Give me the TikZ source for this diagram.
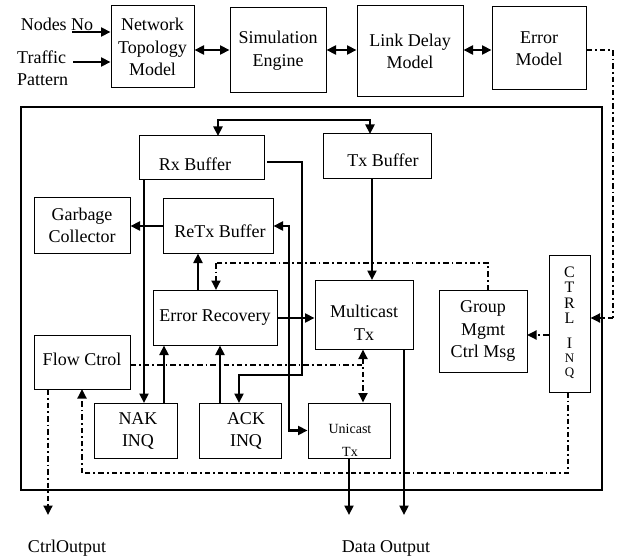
\documentclass[tikz,border=0pt]{standalone}
\usepackage{fontspec}
\setmainfont{Liberation Serif}
\usetikzlibrary{arrows.meta}
\begin{document}
\begin{tikzpicture}[x=1pt,y=-1pt,
  box/.style={draw, line width=1pt, inner sep=0pt, align=center,
    font=\fontsize{18}{22.5}\selectfont},
  txt/.style={inner sep=0pt, align=center, font=\fontsize{18}{22.5}\selectfont},
  arr/.style={line width=2.2pt, -{Triangle[length=9.5pt,width=9pt]}},
  dbl/.style={line width=2.2pt, {Triangle[length=9.5pt,width=9pt]}-{Triangle[length=9.5pt,width=9pt]}},
  sol/.style={line width=2.2pt},
  dd/.style={line width=1.8pt, dash pattern=on 5.5pt off 3pt on 1.8pt off 3pt},
  ddarr/.style={dd, -{Triangle[length=9.5pt,width=9pt]}},
  dddbl/.style={dd, {Triangle[length=9.5pt,width=9pt]}-{Triangle[length=9.5pt,width=9pt]}},
  letter/.style={inner sep=0pt, font=\fontsize{16}{16}\selectfont},
  smallletter/.style={inner sep=0pt, font=\fontsize{13}{13}\selectfont}]
\useasboundingbox (0,0) rectangle (619,559);

% top row
\node[box, minimum width=83pt, minimum height=82pt] (ntm) at (152.5,47) {Network\\Topology\\Model};
\node[box, minimum width=96pt, minimum height=85pt] (se) at (278,50.5) {Simulation\\Engine};
\node[box, minimum width=106pt, minimum height=91pt] (ldm) at (410,51.5) {Link Delay\\Model};
\node[box, minimum width=94pt, minimum height=83pt] (em) at (539,48.5) {Error\\Model};

% inputs
\node[txt] (nodesno) at (57,24) {Nodes No};
\node[txt, anchor=west, align=left] (traffic) at (17,68.5) {Traffic\\Pattern};
\coordinate (nnstart) at (72,32);
\coordinate (tpstart) at (73,62);
\draw[arr] (nnstart) -- (nnstart -| ntm.west);
\draw[arr] (tpstart) -- (tpstart -| ntm.west);

% outer frame
\node[draw, line width=2.2pt, minimum width=581pt, minimum height=383pt, inner sep=0pt] (frame) at (311.5,298.5) {};

% inner boxes
\node[box, minimum width=125pt, minimum height=44pt] (rx) at (201.5,158) {};
\node[txt] (rxl) at (195,164) {Rx Buffer};
\node[box, minimum width=108pt, minimum height=45pt] (tx) at (377,156.5) {};
\node[txt] (txl) at (383,160) {Tx Buffer};
\node[box, minimum width=96pt, minimum height=55pt] (gc) at (82,225.5) {Garbage\\Collector};
\node[box, minimum width=110pt, minimum height=54pt] (retx) at (218,226) {};
\node[txt] (retxl) at (220,231) {ReTx Buffer};
\node[box, minimum width=124pt, minimum height=55pt] (er) at (215,317.5) {Error Recovery};
\node[box, minimum width=98pt, minimum height=69pt] (mc) at (364,314.5) {};
\node[txt] (mcl) at (364,323) {Multicast\\Tx};
\node[box, minimum width=88pt, minimum height=82pt] (gm) at (483,331) {Group\\Mgmt\\Ctrl Msg};
\node[box, minimum width=41pt, minimum height=137pt] (ctrl) at (569.5,323.5) {};
\node[letter] (c1) at (569.5,272) {C};
\node[letter] (c2) at (569.5,287.5) {T};
\node[letter] (c3) at (569.5,303) {R};
\node[letter] (c4) at (569.5,318.5) {L};
\node[letter] (c5) at (569.5,343) {I};
\node[smallletter] (c6) at (569.5,358) {N};
\node[smallletter] (c7) at (569.5,373) {Q};
\node[box, minimum width=96pt, minimum height=54pt] (fc) at (82,362) {};
\node[txt] (fcl) at (82,359) {Flow Ctrol};
\node[box, minimum width=83pt, minimum height=55pt] (nak) at (135.5,430.5) {};
\node[txt] (nakl) at (138,431) {NAK\\INQ};
\node[box, minimum width=82pt, minimum height=55pt] (ack) at (240,430.5) {};
\node[txt] (ackl) at (246,431) {ACK\\INQ};
\node[box, minimum width=82pt, minimum height=55pt] (uc) at (349,430.5) {};
\node[inner sep=0pt, align=center, font=\fontsize{14}{23}\selectfont] (ucl) at (350,440) {Unicast\\Tx};

% outputs text
\node[txt] (cout) at (67,548) {CtrlOutput};
\node[txt] (dout) at (386,548) {Data Output};

% top row connectors
\coordinate (toprow) at (0,50);
\draw[dbl] (ntm.east |- toprow) -- (se.west |- toprow);
\draw[dbl] (se.east |- toprow) -- (ldm.west |- toprow);
\draw[dbl] (ldm.east |- toprow) -- (em.west |- toprow);

% error model to CTRL INQ
\coordinate (emr) at (613,50);
\coordinate (ctrlin) at (613,318);
\draw[dd] (em.east |- emr) -- (emr) -- (ctrlin);
\draw[ddarr] (ctrlin) -- (ctrlin -| ctrl.east);

% simulation engine to buffers
\coordinate (sj) at (280,120);
\coordinate (rxin) at (218,136);
\coordinate (txin) at (370,134);
\draw[sol] (sj -| se.south) -- (sj);
\draw[arr] (sj) -| (rxin);
\draw[arr] (sj) -| (txin);

% Rx buffer to NAK INQ
\coordinate (nakin) at (144,403);
\draw[arr] (rx.south -| nakin) -- (nakin);

% Rx buffer to ACK INQ
\coordinate (rxr) at (267,162);
\coordinate (rxdown) at (302,375);
\coordinate (ackin) at (239,403);
\draw[arr] (rxr) -| (rxdown) -| (ackin);

% Error recovery junction
\coordinate (j) at (289,318);
\draw[sol] (er.east |- j) -- (j);
\draw[arr] (j) -- (j -| mc.west);
\draw[arr] (j) |- (retx.east);
\draw[arr] (j) |- (uc.west);

% ReTx to garbage collector
\draw[arr] (retx.west) -- (retx.west -| gc.east);

% Error recovery to ReTx buffer
\coordinate (erup) at (198,290);
\draw[arr] (erup) -- (erup |- retx.south);

% NAK / ACK to error recovery
\coordinate (nakout) at (164,403);
\coordinate (ackout) at (220,403);
\draw[arr] (nakout) -- (nakout |- er.south);
\draw[arr] (ackout) -- (ackout |- er.south);

% Tx buffer to multicast
\coordinate (mcin) at (372,280);
\draw[arr] (tx.south -| mcin) -- (mcin);

% data outputs
\coordinate (mcout) at (404,515);
\coordinate (ucout) at (349,515);
\draw[arr] (mc.south -| mcout) -- (mcout);
\draw[arr] (uc.south) -- (ucout);

% group mgmt to error recovery
\coordinate (gmtop) at (488,290);
\coordinate (ddtop) at (216,263);
\coordinate (erdd) at (216,290);
\draw[dd] (gmtop) |- (ddtop);
\draw[ddarr] (ddtop) -- (erdd);

% CTRL INQ to group mgmt
\coordinate (gmr) at (527,335);
\draw[ddarr] (ctrl.west |- gmr) -- (gmr);

% CTRL INQ to flow control
\coordinate (ctrlbot) at (568,392);
\coordinate (lowdd) at (82,473);
\coordinate (fcin) at (82,389);
\draw[dd] (ctrlbot) |- (lowdd);
\draw[ddarr] (lowdd) -- (fcin);

% flow control to multicast/unicast link
\coordinate (fcj) at (363,365);
\draw[dd] (fc.east |- fcj) -- (fcj);
\draw[dddbl] (mc.south -| fcj) -- (uc.north -| fcj);

% flow control ctrl output
\coordinate (ctrlout) at (48,515);
\draw[ddarr] (fc.south -| ctrlout) -- (ctrlout);
\end{tikzpicture}
\end{document}
